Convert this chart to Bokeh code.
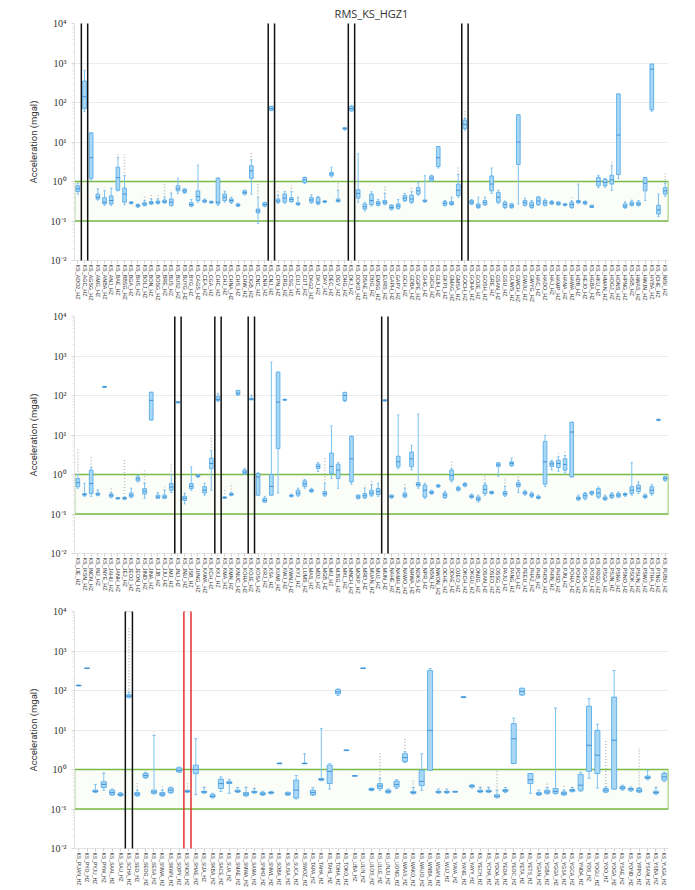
import numpy as np
from bokeh.plotting import figure
from bokeh.layouts import column
from bokeh.models import Range1d, FixedTicker, CustomJSTickFormatter, BoxAnnotation
from bokeh.embed import file_html
from bokeh.resources import INLINE

TITLE = "RMS_KS_HGZ1"
Y_LABEL = "Acceleration (mgal)"
BAND_LOW, BAND_HIGH = 0.1, 1.0
Y_TICKS = [1e-2, 1e-1, 1e0, 1e1, 1e2, 1e3, 1e4]

# ---------------- panel 1 ----------------
p1_codes = ("ADO2 AGC AGSG AMG ANBA ANJ BAE BBSG BGA BHS BOLJ BON BOSG BRE BUS BUS2 BUYG BYG CAGS CEA "
            "CGA CHC CHJ CHNA CHS CHW CIGB CNC CNH CNJ CPN CRG CSG CUJ CUT DAG2 DAJ DAY DEC DGY "
            "DHG DKJ DOKD DSAE DUG EMSG EURS GAPH GAPY GCH GDBA GGPE GHG GICH GIJH GKP1 GMAG GMSA GOCH GOHA "
            "GOJE GOSH GRE GSAN GSU GUWS GWCH GWJU GWYG HAC HADO HAJ HAMP HANA HAWA HDB HEJO HGBA HKU HMAN "
            "HOGJ HONS HPNG HSB HWAS HWJN HYBA ICHE IMSI").split()
p1_low = [0.48,60,1.1,0.34,0.25,0.25,0.58,0.26,0.27,0.22, 0.24,0.26,0.27,0.28,0.24,0.5,0.5,0.23,0.3,0.29,
          0.28,0.25,0.3,0.28,0.23,0.46,0.48,0.087,0.23,63, 0.28,0.28,0.3,0.25,0.9,0.28,0.26,0.29,1.3,0.3,
          20,60,0.3,0.18,0.24,0.24,0.26,0.19,0.2,0.31, 0.28,0.45,0.3,1.0,2.2,0.24,0.25,0.4,20,0.26,
          0.21,0.25,0.5,0.28,0.21,0.21,0.27,0.24,0.21,0.25, 0.24,0.26,0.25,0.24,0.21,0.28,0.26,0.22,0.7,0.72,
          0.6,1.2,0.21,0.24,0.24,0.33,60,0.13,0.42]
p1_q1 = [0.56,70,1.2,0.36,0.27,0.27,0.6,0.3,0.28,0.23, 0.25,0.27,0.28,0.29,0.25,0.58,0.53,0.24,0.33,0.3,
         0.29,0.27,0.33,0.3,0.24,0.48,1.2,0.16,0.24,63, 0.3,0.3,0.31,0.26,0.94,0.3,0.27,0.3,1.4,0.31,
         21,62,0.38,0.2,0.26,0.25,0.27,0.2,0.21,0.33, 0.3,0.48,0.31,1.04,2.4,0.25,0.26,0.44,22,0.27,
         0.22,0.26,0.58,0.3,0.22,0.22,2.7,0.25,0.22,0.26, 0.25,0.27,0.26,0.25,0.22,0.29,0.27,0.22,0.78,0.78,
         0.86,1.5,0.22,0.25,0.25,0.58,65,0.15,0.48]
p1_med = [0.65,140,4,0.4,0.3,0.33,1.26,0.48,0.29,0.245, 0.27,0.29,0.3,0.31,0.3,0.65,0.58,0.26,0.42,0.32,
          0.3,0.3,0.4,0.33,0.25,0.53,1.86,0.18,0.26,70, 0.32,0.38,0.35,0.27,1.1,0.34,0.3,0.31,1.55,0.33,
          22,70,0.5,0.23,0.33,0.28,0.3,0.22,0.24,0.38, 0.36,0.58,0.32,1.2,4,0.28,0.28,0.6,28,0.3,
          0.24,0.29,0.86,0.4,0.26,0.24,10,0.29,0.25,0.32, 0.29,0.29,0.28,0.26,0.26,0.31,0.29,0.23,1.0,0.95,
          1.1,15,0.24,0.27,0.27,0.9,700,0.19,0.58]
p1_q3 = [0.78,350,17,0.48,0.39,0.43,2.3,0.68,0.3,0.26, 0.29,0.31,0.32,0.34,0.36,0.78,0.64,0.29,0.58,0.34,
         0.31,1.21,0.48,0.36,0.27,0.58,2.5,0.2,0.29,80, 0.36,0.48,0.39,0.29,1.26,0.39,0.39,0.32,1.7,0.36,
         23,80,0.62,0.27,0.48,0.31,0.33,0.25,0.27,0.44, 0.45,0.7,0.34,1.38,7.7,0.31,0.31,0.86,36,0.33,
         0.27,0.33,1.38,0.53,0.3,0.27,49,0.33,0.3,0.4, 0.33,0.31,0.3,0.27,0.3,0.33,0.31,0.25,1.26,1.14,
         1.44,165,0.27,0.3,0.3,1.26,930,0.25,0.7]
p1_high = [0.89,650,17,0.64,0.58,0.68,4.0,1.4,0.31,0.27, 0.33,0.36,0.36,0.4,0.5,1.2,0.66,0.35,2.6,0.36,
           0.32,1.21,0.55,0.4,0.28,0.6,3.5,0.4,0.3,80, 0.45,0.55,0.55,0.4,1.3,0.45,0.42,0.33,2.3,0.6,
           23,85,5,0.3,0.55,0.35,0.5,0.26,0.35,0.5, 0.55,0.95,1.4,1.45,7.7,0.33,0.4,1.5,40,0.35,
           0.4,0.4,2.2,0.6,0.32,0.28,49,0.38,0.33,0.42, 0.36,0.33,0.31,0.28,0.32,0.86,0.32,0.25,1.4,1.2,
           2.5,165,0.3,0.33,0.33,1.26,950,0.48,0.9]
p1_omax = [1.0,650,17,0.75,0.7,0.68,4.9,4.9,0.31,0.27, 0.45,0.5,0.45,0.9,0.6,1.2,0.66,0.35,2.6,0.36,
           0.32,1.3,0.6,0.4,0.28,0.6,5.4,1.1,0.3,80, 0.6,0.6,0.8,0.4,1.3,0.5,0.42,0.33,2.3,0.9,
           23,85,5,0.3,0.55,0.35,0.75,0.26,0.35,0.5, 0.75,1.1,1.4,1.45,7.7,0.33,0.4,2.5,60,0.35,
           0.4,0.4,2.2,0.6,0.32,0.28,49,0.38,0.33,0.42, 0.36,0.33,0.31,0.28,0.4,0.86,0.32,0.25,1.5,1.2,
           3.5,165,0.35,0.38,0.33,1.26,950,0.48,1.6]
p1_marked = [1, 29, 41, 58]
p1_red = []

# ---------------- panel 2 ----------------
p2_codes = ("IJE IKSN INCN INJ INYE JAHU JANH JEJ JEO2 JEON JIND JINA JJB JJU JMJ JNJ JNU JSB JUNG KAWA "
            "KCH KKJ KMA KMN KNUC KOHA KOJE KOSA KRJ KSA KUMI KWJ KWNJ KYJ LUMS MAS MDJ MGB MIJ MJSG "
            "MKL MNCH MOKP MRD MUAN MUJ MUN NAHE NAMH NAWO NHWA NOKS NPR NSN NWON OCHE ODAE OJEO OKCH OKGU "
            "ONJG OSAN OSEO OSSG PAJU PANG PCH PEEU PHA2 PHB PHDO PHIN PHSD PJN POHA POKO POSA POSU PRGU PSGA "
            "PSJN PSNA PSNO PSOK PSUN PSWJ PTHA PTNG PUBU").split()
p2_low = [0.45,0.28,0.28,0.29,160,0.26,0.24,0.23,0.26,0.65, 0.25,24,0.25,0.25,0.35,65,0.18,0.4,0.85,0.3,
          0.4,70,0.25,0.29,100,1.0,78,0.3,0.2,0.3, 0.34,75,0.27,0.28,0.45,0.35,1.2,0.28,0.8,0.45,
          70,0.57,0.24,0.25,0.28,0.28,72,0.25,1.4,0.26, 1.3,0.45,0.25,0.31,0.47,0.25,0.65,0.38,0.49,0.25,
          0.2,0.3,0.32,0.9,0.28,1.6,0.35,0.3,0.26,0.24, 0.5,1.3,1.2,1.1,0.87,0.22,0.23,0.3,0.25,0.22,
          0.25,0.26,0.28,0.3,0.33,0.25,0.3,23,0.68]
p2_q1 = [0.49,0.3,0.33,0.3,160,0.27,0.24,0.24,0.27,0.69, 0.32,24,0.25,0.25,0.4,65,0.22,0.44,0.88,0.34,
         1.4,75,0.25,0.3,105,1.06,78,0.3,0.2,0.3, 4.5,76,0.28,0.3,0.5,0.37,1.42,0.3,1.06,0.79,
         75,0.65,0.25,0.26,0.3,0.31,73,0.26,1.56,0.27, 1.56,0.51,0.27,0.33,0.49,0.26,0.72,0.4,0.51,0.26,
         0.22,0.33,0.33,1.6,0.3,1.7,0.49,0.32,0.28,0.25, 0.57,1.6,1.5,1.29,0.87,0.23,0.25,0.32,0.27,0.23,
         0.26,0.27,0.3,0.33,0.37,0.26,0.33,23.5,0.72]
p2_med = [0.62,0.31,0.59,0.32,165,0.3,0.25,0.25,0.3,0.78, 0.38,75,0.27,0.27,0.48,68,0.25,0.5,0.92,0.4,
          1.9,80,0.26,0.31,115,1.15,80,0.87,0.22,0.5, 68,78,0.29,0.34,0.58,0.39,1.6,0.33,1.6,1.3,
          100,2.5,0.27,0.29,0.34,0.37,75,0.28,2.1,0.3, 2.5,0.56,0.4,0.35,0.51,0.3,0.95,0.43,0.55,0.28,
          0.24,0.42,0.35,1.75,0.33,1.9,0.55,0.34,0.3,0.26, 2.1,1.85,1.9,1.8,11.9,0.25,0.29,0.34,0.34,0.25,
          0.29,0.3,0.31,0.4,0.45,0.28,0.4,24,0.8]
p2_q3 = [0.79,0.33,1.29,0.34,170,0.32,0.26,0.26,0.34,0.87, 0.44,121,0.3,0.3,0.59,70,0.28,0.59,0.96,0.49,
         2.6,95,0.27,0.33,135,1.29,85,1.06,0.25,1.0, 390,80,0.3,0.4,0.69,0.42,1.82,0.37,3.5,1.82,
         120,9.3,0.3,0.33,0.4,0.44,78,0.3,2.9,0.34, 3.7,0.62,0.54,0.38,0.54,0.34,1.29,0.47,0.59,0.3,
         0.27,0.54,0.37,1.97,0.37,2.1,0.62,0.37,0.33,0.28, 6.9,2.1,2.3,2.5,21,0.27,0.33,0.37,0.44,0.27,
         0.32,0.33,0.33,0.49,0.54,0.3,0.49,25,0.87]
p2_high = [1.0,0.6,1.5,0.4,170,0.35,0.26,0.27,0.45,0.95, 0.6,121,0.35,0.4,1.0,70,0.33,1.56,1.0,0.6,
           4,110,0.27,0.35,135,1.4,100,1.1,0.28,700, 390,80,0.32,0.45,0.75,0.45,2.0,0.6,17,2.0,
           120,9.3,0.3,0.45,0.55,0.6,78,0.3,32,0.45, 5.5,34,0.6,0.4,0.56,0.38,1.4,0.5,0.62,0.32,
           0.3,0.6,0.38,2.0,0.5,2.6,0.7,0.4,0.36,0.3, 9.8,2.3,2.8,3.0,21,0.3,0.35,0.38,0.48,0.3,
           0.35,0.36,0.34,2.0,0.65,0.32,0.55,25,0.9]
p2_omax = [4.5,0.6,3,0.45,170,0.5,0.26,2.5,0.45,0.95, 1.4,121,0.35,0.5,2,70,0.35,1.56,1.0,0.6,
           10,130,0.45,0.6,135,1.5,110,1.1,0.28,700, 390,80,0.32,0.45,0.75,0.45,2.0,2.8,17,2.0,
           120,9.3,0.3,0.55,0.75,0.6,78,0.3,32,0.6, 5.5,34,0.6,0.4,0.56,0.38,2.1,0.5,0.62,0.32,
           0.3,0.9,0.38,2.0,0.85,2.6,0.9,0.4,0.36,0.3, 9.8,2.3,3.5,4.0,21,0.3,0.35,0.38,0.48,0.3,
           0.35,0.36,0.34,2.0,0.65,0.32,0.55,25,0.9]
p2_marked = [15, 21, 26, 46]
p2_red = []

# ---------------- panel 3 ----------------
p3_codes = ("PUAN PYO PYJU PYW SAAL SAU SCHA SEO SEOG SESA SNWA SKWN SOPY SNOS SHAE SIJA SKBA SACE SUA SMAE "
            "SMWA SAMA SNHO SNWL SOBA SUSA SUCA SWOZ TAPA TAHA TAHL TOHA TOKO UBA ULIN ULOS ULLE UNJU UONG WAAS "
            "WAKO WAUO WNBA WSAN WUJ YAVA YANG YAYY YECH YCHA YDOA YEOA YEOC YETA YETS YGAN YGBA YGGA YGSA YGCA "
            "YNDA YDS YOGU YOO YOGA YSAE YOND YPPO YSAM YSBA YUGA").split()
p3_low = [130,360,0.26,0.3,0.22,0.21,65,0.21,0.6,0.24, 0.21,0.25,0.85,0.26,0.23,0.25,0.19,0.28,0.25,0.26,
          0.21,0.25,0.22,0.24,1.4,0.22,0.18,1.4,0.22,0.52, 0.32,75,3.0,0.68,360,0.29,0.3,0.25,0.33,1.5,
          0.24,0.3,0.96,0.25,0.25,0.27,66,0.34,0.26,0.26, 0.19,0.26,1.42,75,0.25,0.22,0.24,0.24,0.22,0.27,
          0.28,0.6,0.34,0.26,0.32,0.3,0.28,0.26,0.55,0.23, 0.5]
p3_q1 = [132,362,0.27,0.35,0.23,0.22,68,0.22,0.63,0.25, 0.22,0.26,0.87,0.27,0.79,0.26,0.2,0.33,0.44,0.27,
         0.22,0.26,0.23,0.25,1.4,0.23,0.19,1.4,0.23,0.54, 0.44,82,3.02,0.68,362,0.3,0.33,0.26,0.36,1.6,
         0.25,0.39,0.96,0.26,0.26,0.27,67,0.36,0.27,0.27, 0.2,0.28,1.42,78,0.44,0.23,0.25,0.25,0.23,0.28,
         0.3,0.9,0.79,0.27,0.32,0.32,0.3,0.27,0.59,0.25, 0.54]
p3_med = [134,365,0.28,0.42,0.26,0.23,72,0.24,0.7,0.27, 0.24,0.3,0.95,0.28,1.0,0.27,0.21,0.44,0.46,0.28,
          0.24,0.27,0.24,0.26,1.42,0.24,0.3,1.42,0.26,0.56, 0.9,92,3.07,0.69,365,0.31,0.38,0.28,0.42,2.0,
          0.26,0.5,9.8,0.27,0.27,0.27,68,0.38,0.28,0.28, 0.21,0.29,6,95,0.55,0.24,0.27,0.28,0.25,0.3,
          0.4,4.1,2.3,0.3,5.5,0.34,0.32,0.29,0.63,0.26, 0.65]
p3_q3 = [136,368,0.3,0.49,0.3,0.25,78,0.26,0.79,0.3, 0.26,0.34,1.1,0.29,1.29,0.28,0.23,0.57,0.49,0.3,
         0.26,0.28,0.26,0.27,1.45,0.26,0.54,1.45,0.3,0.59, 1.29,105,3.1,0.7,368,0.33,0.44,0.3,0.51,2.5,
         0.28,0.96,320,0.28,0.28,0.28,69,0.4,0.3,0.3, 0.23,0.31,14.5,114,0.79,0.26,0.3,0.33,0.27,0.31,
         0.75,40,9.8,0.33,68,0.37,0.33,0.33,0.68,0.28, 0.79]
p3_high = [136,368,0.42,0.8,0.32,0.26,90,0.3,0.85,7.3, 0.3,0.36,1.15,0.3,6,0.35,0.25,0.65,0.55,0.35,
           0.35,0.33,0.28,0.28,1.45,0.27,0.7,2.5,0.35,10.8, 1.4,110,3.1,0.7,368,0.34,0.6,0.32,0.55,2.8,
           0.35,2.5,360,0.32,0.32,0.28,69,0.42,0.35,0.35, 0.3,0.35,20,114,0.79,0.3,0.35,36,0.3,0.35,
           0.85,62,14,0.36,320,0.4,0.36,0.35,0.96,0.35, 0.85]
p3_omax = [136,368,0.42,0.9,0.32,0.26,3900,0.5,0.85,9, 0.4,0.36,1.15,0.5,6,0.4,0.25,0.65,0.6,0.35,
           0.4,0.4,0.28,0.28,1.45,0.27,0.7,2.5,0.35,10.8, 1.4,110,3.1,0.7,368,0.34,2.8,0.32,0.55,6,
           0.55,2.5,360,0.32,0.32,0.28,69,0.42,0.38,0.38, 1.0,0.35,20,114,0.8,0.3,0.5,36,0.4,0.4,
           0.85,62,14,6,320,0.4,0.36,3.5,0.96,0.4, 0.85]
p3_marked = [6]
p3_red = [13]

# ---------------- styling ----------------
BOX_FILL = "#a9d7f6"
BOX_LINE = "#5aaee8"
MED_LINE = "#3a8ad0"
WHISK = "#7fc2ef"
OUTL = "#b0b0b0"
GREEN = "#78bb46"
LABEL_FONT = "Liberation Sans"

SUP = CustomJSTickFormatter(code="""
const sup = {"-": "\u207b", "0": "\u2070", "1": "\u00b9", "2": "\u00b2", "3": "\u00b3",
             "4": "\u2074", "5": "\u2075", "6": "\u2076", "7": "\u2077", "8": "\u2078", "9": "\u2079"};
const e = Math.round(Math.log10(tick));
return "10" + String(e).split("").map(c => sup[c]).join("");
""")

MINOR = [k * 10.0 ** e for e in range(-2, 4) for k in range(2, 10)]
FRAME_H = 237
PX_PER_DECADE = FRAME_H / 6.0


def panel(codes, lo, q1, med, q3, hi, omax, marked, red, top_border, bottom_border,
          label_size, box_w, mark_w, mark_up_px, mark_down_px, title=None):
    n = len(codes)
    for arr in (lo, q1, med, q3, hi, omax):
        assert len(arr) == n, (len(arr), n)
    names = [f"KS_{c}_HZ" for c in codes]
    x = np.arange(n, dtype=float)
    lo, q1, med, q3, hi, omax = (np.asarray(a, dtype=float) for a in (lo, q1, med, q3, hi, omax))

    p = figure(frame_width=594, frame_height=FRAME_H,
               min_border_left=74, min_border_right=27,
               min_border_top=top_border, min_border_bottom=bottom_border,
               x_range=Range1d(-0.5, n - 0.5), y_range=Range1d(Y_TICKS[0], Y_TICKS[-1]),
               y_axis_type="log", output_backend="svg", toolbar_location=None,
               title=title)
    p.outline_line_color = None
    p.background_fill_color = "white"
    p.border_fill_color = "white"
    if title is not None:
        p.title.align = "center"
        p.title.offset = -33
        p.title.standoff = 6
        p.title.text_font = "Open Sans"
        p.title.text_font_size = "11px"
        p.title.text_font_style = "normal"
        p.title.text_color = "#333333"

    # grid / axes
    p.xgrid.visible = False
    p.ygrid.grid_line_color = "#ebebeb"
    p.ygrid.grid_line_width = 1
    p.yaxis.ticker = FixedTicker(ticks=Y_TICKS, minor_ticks=MINOR)
    p.yaxis.formatter = SUP
    p.yaxis.axis_label = Y_LABEL
    p.yaxis.axis_label_text_font = "Roboto"
    p.yaxis.axis_label_text_font_size = "9.5px"
    p.yaxis.axis_label_text_font_style = "normal"
    p.yaxis.axis_label_text_color = "#333333"
    p.yaxis.axis_label_standoff = 9
    p.yaxis.major_label_text_font = "Liberation Serif"
    p.yaxis.major_label_text_font_size = "10px"
    p.yaxis.major_label_text_color = "#333333"
    p.yaxis.major_label_standoff = 5
    p.yaxis.axis_line_color = "#e3e3e3"
    p.yaxis.major_tick_line_color = "#d8d8d8"
    p.yaxis.major_tick_out = 3
    p.yaxis.major_tick_in = 0
    p.yaxis.minor_tick_line_color = "#e6e6e6"
    p.yaxis.minor_tick_out = 2
    p.yaxis.minor_tick_in = 0

    p.xaxis.ticker = FixedTicker(ticks=list(range(n)))
    p.xaxis.formatter = CustomJSTickFormatter(args=dict(names=names),
                                              code="return names[Math.round(tick)] || '';")
    p.xaxis.major_label_orientation = "vertical"
    p.xaxis.major_label_text_font = LABEL_FONT
    p.xaxis.major_label_text_font_size = label_size
    p.xaxis.major_label_text_color = "#333333"
    p.xaxis.major_label_standoff = 1
    p.xaxis.axis_line_color = "#e3e3e3"
    p.xaxis.major_tick_line_color = "#cfcfcf"
    p.xaxis.major_tick_out = 3
    p.xaxis.major_tick_in = 0
    p.xaxis.minor_tick_line_color = None

    # threshold band
    p.quad(left=[-0.5], right=[n - 0.5], bottom=[BAND_LOW], top=[BAND_HIGH],
           fill_color="#eef8e7", fill_alpha=0.25, line_color=GREEN, line_width=1.6)

    # outliers (grey dotted column)
    m = omax > hi * 1.05
    p.segment(x0=x[m], y0=hi[m], x1=x[m], y1=omax[m], line_color=OUTL,
              line_width=1.6, line_dash="1 2", line_alpha=0.8)

    # whiskers + caps
    cap = box_w * 0.3
    p.segment(x0=x, y0=q3, x1=x, y1=hi, line_color=WHISK, line_width=1)
    p.segment(x0=x, y0=lo, x1=x, y1=q1, line_color=WHISK, line_width=1)
    p.segment(x0=x - cap, y0=hi, x1=x + cap, y1=hi, line_color=WHISK, line_width=1)
    p.segment(x0=x - cap, y0=lo, x1=x + cap, y1=lo, line_color=WHISK, line_width=1)

    # boxes + medians
    p.vbar(x=x, width=box_w, bottom=q1, top=q3, fill_color=BOX_FILL,
           line_color=BOX_LINE, line_width=0.9)
    p.segment(x0=x - box_w / 2, y0=med, x1=x + box_w / 2, y1=med,
              line_color=MED_LINE, line_width=0.9)

    # highlighted stations (frame + label)
    top_v = Y_TICKS[-1] * 10 ** (mark_up_px / PX_PER_DECADE)
    bot_v = Y_TICKS[0] / 10 ** (mark_down_px / PX_PER_DECADE)
    for idx_list, col in ((marked, "#111111"), (red, "#e23030")):
        for i in idx_list:
            p.add_layout(BoxAnnotation(left=i - mark_w / 2, right=i + mark_w / 2,
                                       top=top_v, bottom=bot_v,
                                       fill_alpha=0, line_color=col, line_alpha=1.0,
                                       line_width=1.5, border_radius=2, level="overlay"))
    return p


f1 = panel(p1_codes, p1_low, p1_q1, p1_med, p1_q3, p1_high, p1_omax, p1_marked, p1_red,
           22, 45, "5.4px", 0.55, 0.95, 2, 41, title=TITLE)
f2 = panel(p2_codes, p2_low, p2_q1, p2_med, p2_q3, p2_high, p2_omax, p2_marked, p2_red,
           11, 46, "5.4px", 0.55, 0.95, 2, 39)
f3 = panel(p3_codes, p3_low, p3_q1, p3_med, p3_q3, p3_high, p3_omax, p3_marked, p3_red,
           12, 39, "5px", 0.6, 0.85, 1, 36)

layout = column(f1, f2, f3, spacing=0)
open("out.html", "w").write(file_html(layout, INLINE, title=TITLE))
